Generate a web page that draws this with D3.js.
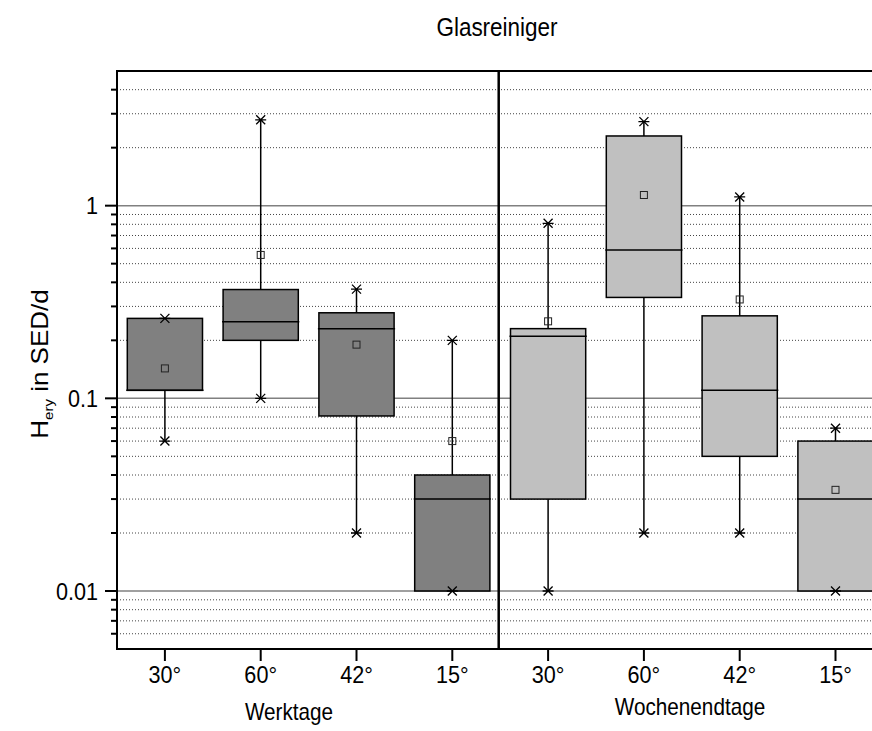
<!DOCTYPE html>
<html>
<head>
<meta charset="utf-8">
<script src="https://cdn.jsdelivr.net/npm/d3@7"></script>
<style>
  html, body { margin: 0; padding: 0; background: #fff; }
  svg { display: block; font-family: Arial, "Liberation Sans", Helvetica, sans-serif; }
</style>
</head>
<body>
<svg id="chart" width="872" height="731"></svg>
<script>
// Categories (angles) and the two day groups
const angles = ["30°", "60°", "42°", "15°"];
const groups = ["Werktage", "Wochenendtage"];

// Werktage box statistics (H_ery in SED/d)
const werkMin    = [0.06, 0.10, 0.02, 0.01];
const werkQ1     = [0.11, 0.20, 0.081, 0.01];
const werkMedian = [0.11, 0.25, 0.23, 0.03];
const werkQ3     = [0.26, 0.367, 0.278, 0.04];
const werkMax    = [0.26, 2.79, 0.369, 0.20];
const werkMean   = [0.143, 0.555, 0.19, 0.06];

// Wochenendtage box statistics (H_ery in SED/d)
const wochMin    = [0.01, 0.02, 0.02, 0.01];
const wochQ1     = [0.03, 0.334, 0.05, 0.01];
const wochMedian = [0.21, 0.589, 0.11, 0.03];
const wochQ3     = [0.23, 2.30, 0.268, 0.06];
const wochMax    = [0.81, 2.73, 1.11, 0.07];
const wochMean   = [0.251, 1.136, 0.326, 0.0335];

// Axis ticks
const yMajorTicks = [0.01, 0.1, 1];
const yMajorLabels = ["0.01", "0.1", "1"];
const yMinorTicks = [0.006, 0.007, 0.008, 0.009,
                     0.02, 0.03, 0.04, 0.05, 0.06, 0.07, 0.08, 0.09,
                     0.2, 0.3, 0.4, 0.5, 0.6, 0.7, 0.8, 0.9,
                     2, 3, 4];

const fills = { "Werktage": "#808080", "Wochenendtage": "#c0c0c0" };

// Build one row per box from the arrays above
const rows = [];
groups.forEach((g, gi) => {
  const src = gi === 0
    ? [werkMin, werkQ1, werkMedian, werkQ3, werkMax, werkMean]
    : [wochMin, wochQ1, wochMedian, wochQ3, wochMax, wochMean];
  angles.forEach((a, i) => {
    rows.push({ key: g + "|" + a, group: g, angle: a,
      min: src[0][i], q1: src[1][i], median: src[2][i],
      q3: src[3][i], max: src[4][i], mean: src[5][i] });
  });
});

const svg = d3.select("#chart");
const plotLeft = 117, plotTop = 71, plotBottom = 649;
const bandW = 95.8;
const plotRight = plotLeft + bandW * rows.length; // the frame runs past the page edge
const narrow = 0.9; // slightly condensed lettering

const x = d3.scaleBand().domain(rows.map(d => d.key)).range([plotLeft, plotRight]).padding(0);
const y = d3.scaleLog().domain([0.005, 5]).range([plotBottom, plotTop]);

const boxW = x.bandwidth() * 0.785;
const cx = d => x(d.key) + x.bandwidth() / 2;

// Grid lines: dotted minor, solid grey major
const grid = svg.append("g");
grid.selectAll("line.minor").data(yMinorTicks).join("line")
  .attr("class", "minor")
  .attr("x1", plotLeft).attr("x2", plotRight)
  .attr("y1", d => y(d)).attr("y2", d => y(d))
  .attr("stroke", "#444").attr("stroke-width", 1)
  .attr("stroke-dasharray", "1,2");
grid.selectAll("line.major").data(yMajorTicks).join("line")
  .attr("class", "major")
  .attr("x1", plotLeft).attr("x2", plotRight)
  .attr("y1", d => y(d)).attr("y2", d => y(d))
  .attr("stroke", "#808080").attr("stroke-width", 1.5);

// Boxes
const boxes = svg.append("g").selectAll("g").data(rows).join("g");

// whiskers
boxes.append("line")
  .attr("x1", cx).attr("x2", cx)
  .attr("y1", d => y(d.q3)).attr("y2", d => y(d.max))
  .attr("stroke", "#000").attr("stroke-width", 1.5);
boxes.append("line")
  .attr("x1", cx).attr("x2", cx)
  .attr("y1", d => y(d.q1)).attr("y2", d => y(d.min))
  .attr("stroke", "#000").attr("stroke-width", 1.5);

// box body
boxes.append("rect")
  .attr("x", d => cx(d) - boxW / 2)
  .attr("width", boxW)
  .attr("y", d => y(d.q3))
  .attr("height", d => y(d.q1) - y(d.q3))
  .attr("fill", d => fills[d.group])
  .attr("stroke", "#000").attr("stroke-width", 1.5);

// median
boxes.append("line")
  .attr("x1", d => cx(d) - boxW / 2 - 1).attr("x2", d => cx(d) + boxW / 2 + 1)
  .attr("y1", d => y(d.median)).attr("y2", d => y(d.median))
  .attr("stroke", "#000").attr("stroke-width", 1.5);

// min / max star markers
const star = "M-4.5,-4.5L4.5,4.5M-4.5,4.5L4.5,-4.5M-5.5,0L5.5,0";
boxes.each(function (d) {
  const g = d3.select(this);
  [d.min, d.max].forEach(v => {
    g.append("path")
      .attr("d", star)
      .attr("transform", `translate(${cx(d)},${y(v)})`)
      .attr("stroke", "#000").attr("stroke-width", 1.3).attr("fill", "none");
  });
});

// mean square
boxes.append("rect")
  .attr("x", d => cx(d) - 3.5).attr("y", d => y(d.mean) - 3.5)
  .attr("width", 7).attr("height", 7)
  .attr("fill", "none").attr("stroke", "#222").attr("stroke-width", 1);

// Frame: top border, separator between the groups
const sepX = x(rows[angles.length].key) - 1.5;
svg.append("line").attr("x1", plotLeft - 1).attr("x2", plotRight)
  .attr("y1", plotTop).attr("y2", plotTop).attr("stroke", "#000").attr("stroke-width", 2);
svg.append("line").attr("x1", sepX).attr("x2", sepX)
  .attr("y1", plotTop).attr("y2", plotBottom).attr("stroke", "#000").attr("stroke-width", 2.5);

// Y axis (left)
const yAxis = svg.append("g");
yAxis.append("line").attr("x1", plotLeft).attr("x2", plotLeft)
  .attr("y1", plotTop - 1).attr("y2", plotBottom + 1).attr("stroke", "#000").attr("stroke-width", 2);
yAxis.selectAll("line.ymin").data(yMinorTicks).join("line")
  .attr("class", "ymin")
  .attr("x1", plotLeft - 6).attr("x2", plotLeft)
  .attr("y1", d => y(d)).attr("y2", d => y(d))
  .attr("stroke", "#000").attr("stroke-width", 2);
yAxis.selectAll("line.ymaj").data(yMajorTicks).join("line")
  .attr("class", "ymaj")
  .attr("x1", plotLeft - 12).attr("x2", plotLeft)
  .attr("y1", d => y(d)).attr("y2", d => y(d))
  .attr("stroke", "#000").attr("stroke-width", 2);
yAxis.selectAll("text").data(yMajorTicks).join("text")
  .attr("transform", d => `translate(${plotLeft - 19},${y(d)}) scale(${narrow},1)`)
  .attr("dy", "0.36em").attr("text-anchor", "end")
  .attr("font-size", 24).attr("fill", "#000")
  .text((d, i) => yMajorLabels[i]);

// X axis (bottom)
const xAxis = svg.append("g").attr("transform", `translate(0,${plotBottom})`)
  .call(d3.axisBottom(x).tickSize(12).tickPadding(5)
    .tickFormat(k => k.split("|")[1]));
xAxis.select(".domain").remove();
xAxis.selectAll(".tick line").attr("stroke", "#000").attr("stroke-width", 2);
xAxis.selectAll(".tick text").attr("font-size", 24).attr("fill", "#000")
  .attr("transform", `scale(${narrow},1)`)
  .attr("font-family", "Arial, 'Liberation Sans', sans-serif");
svg.append("line").attr("x1", plotLeft - 1).attr("x2", plotRight)
  .attr("y1", plotBottom).attr("y2", plotBottom).attr("stroke", "#000").attr("stroke-width", 2);

// Group labels under the axis
const groupCenters = [289, 690];
svg.selectAll("text.group").data(groups).join("text")
  .attr("class", "group")
  .attr("transform", (d, i) => `translate(${groupCenters[i]},${i === 0 ? 720 : 715}) scale(${narrow},1)`)
  .attr("text-anchor", "middle").attr("font-size", 23).attr("fill", "#000")
  .text(d => d);

// Y axis title with subscript
const yt = svg.append("text")
  .attr("transform", `translate(48,364) rotate(-90) scale(1,${narrow})`)
  .attr("text-anchor", "middle").attr("font-size", 26).attr("fill", "#000");
yt.append("tspan").text("H");
yt.append("tspan").attr("font-size", 15).attr("dy", 6).text("ery");
yt.append("tspan").attr("dy", -6).text(" in SED/d");

// Title
svg.append("text")
  .attr("transform", `translate(497,36) scale(${narrow},1)`)
  .attr("text-anchor", "middle").attr("font-size", 25).attr("fill", "#000")
  .text("Glasreiniger");
</script>
</body>
</html>
